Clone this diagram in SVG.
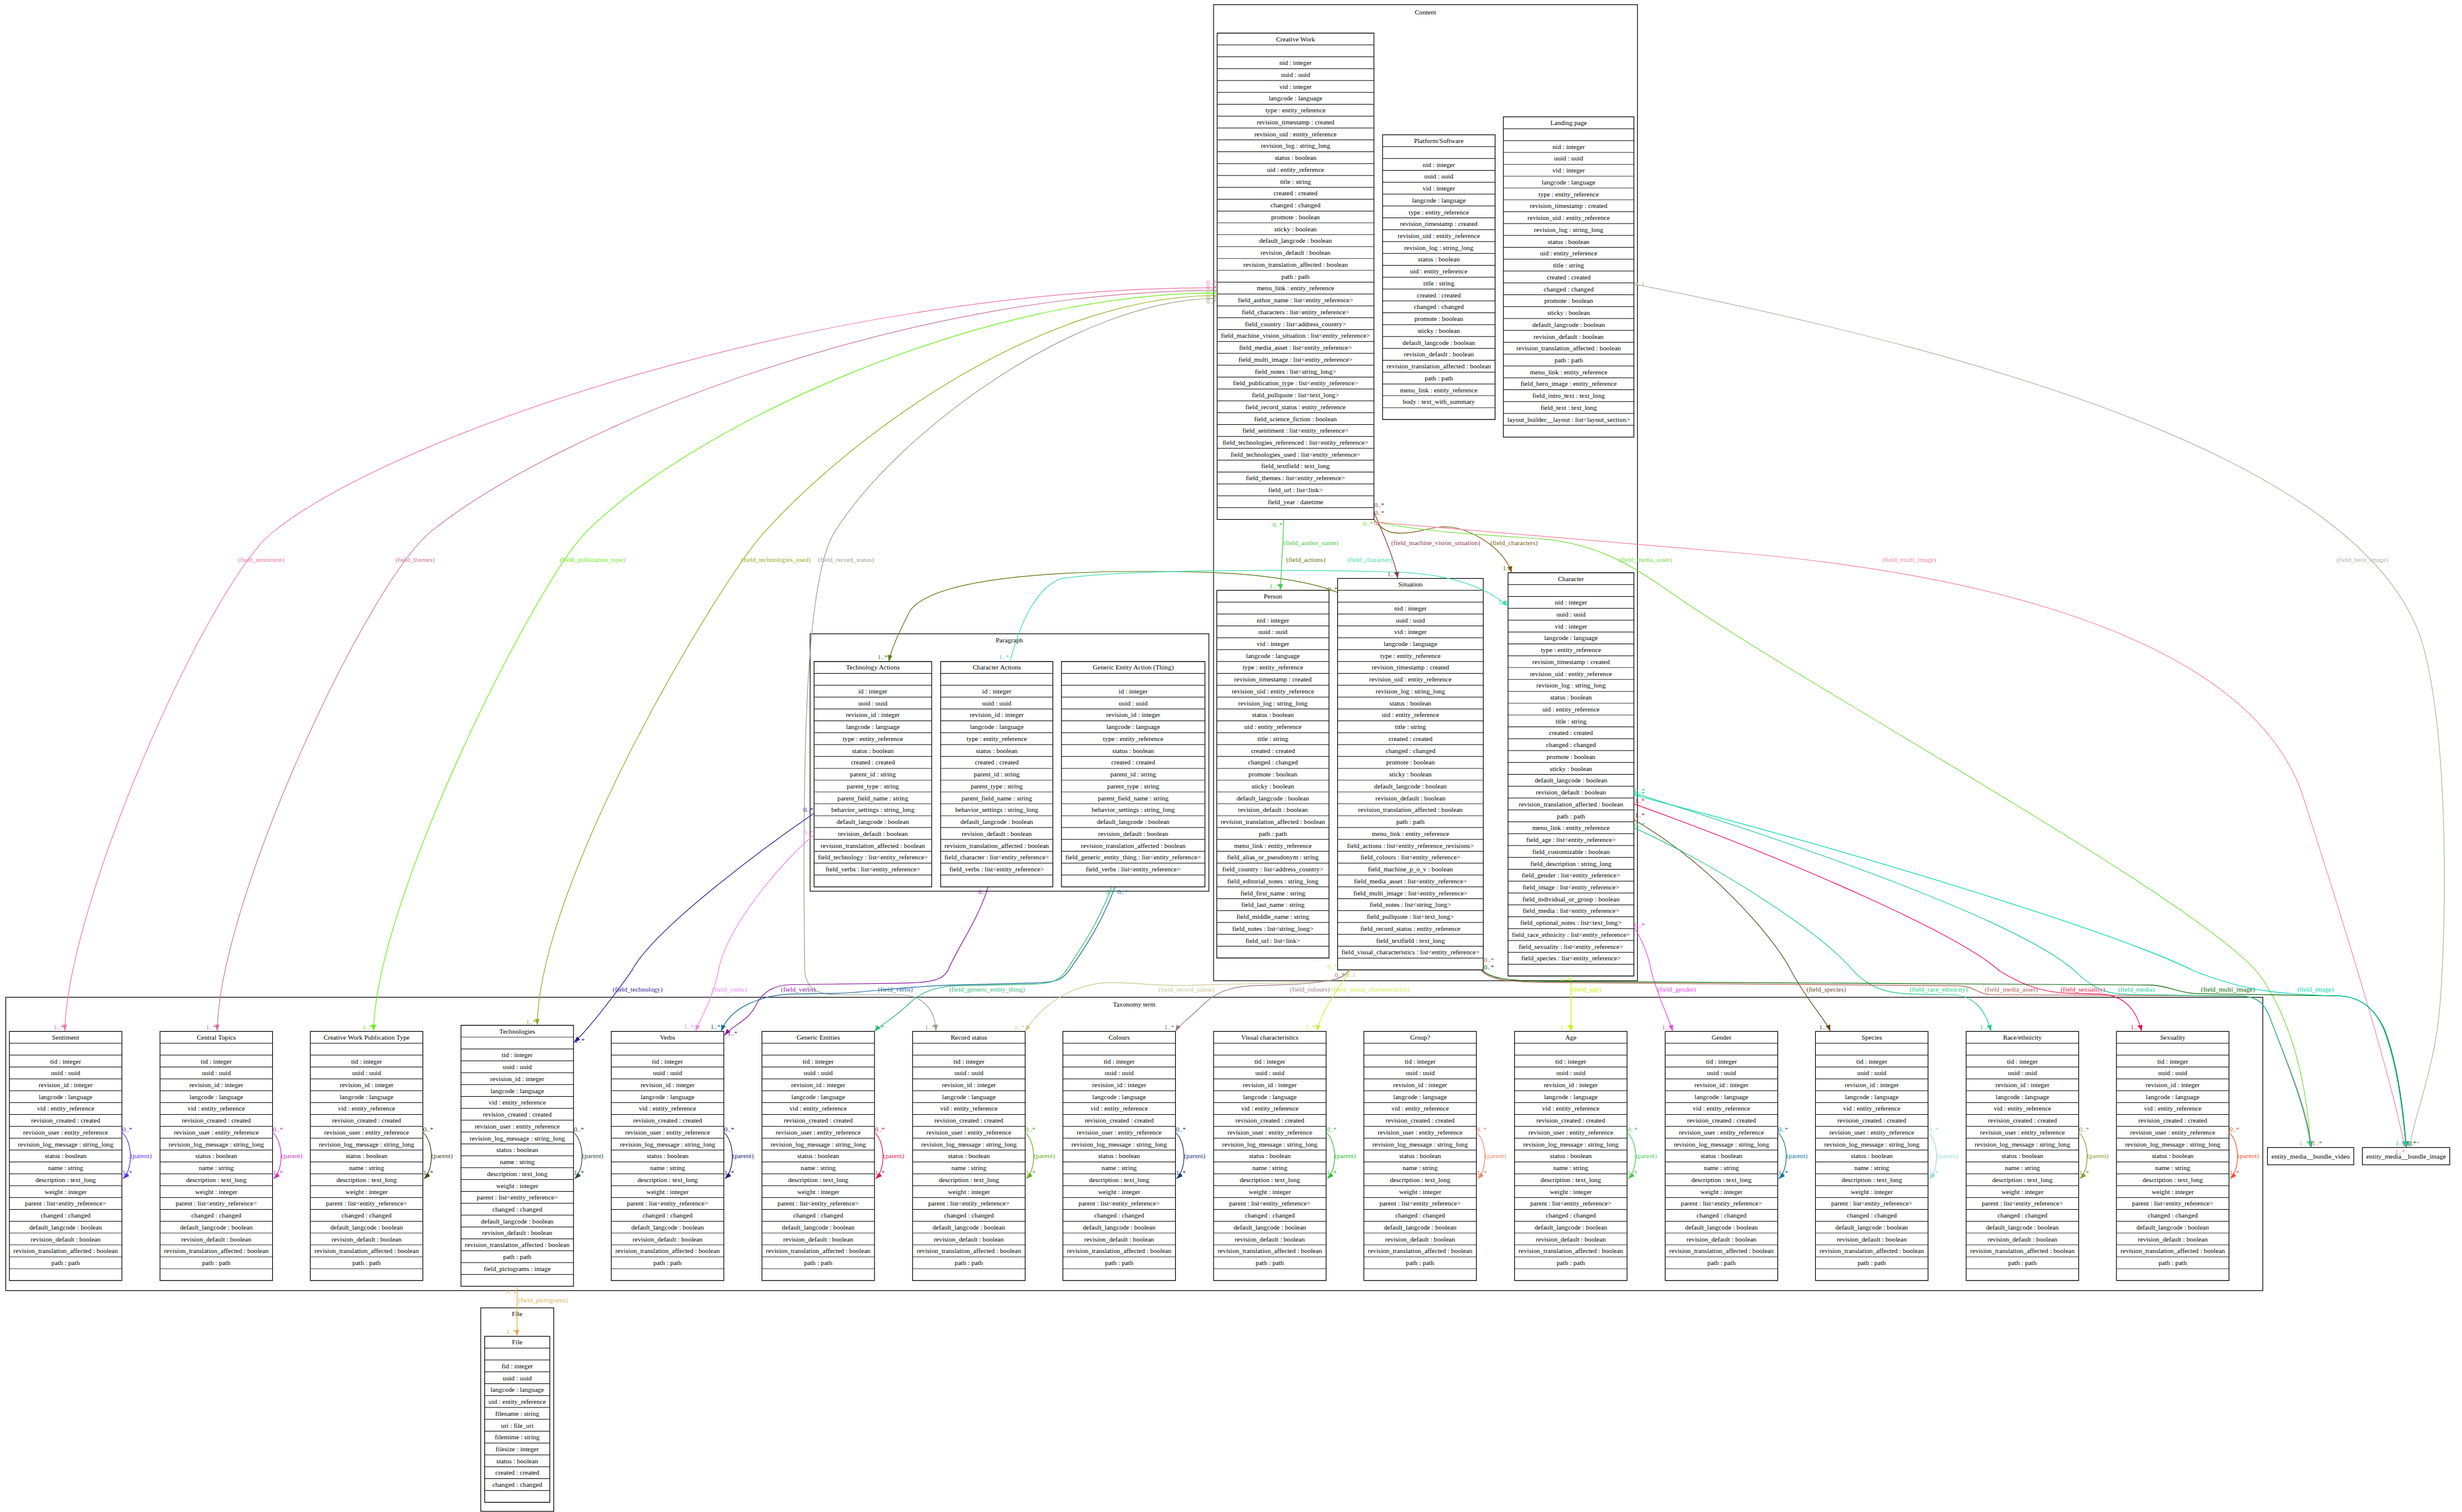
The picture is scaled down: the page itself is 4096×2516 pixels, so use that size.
<svg xmlns="http://www.w3.org/2000/svg" width="4096" height="2516" viewBox="0 0 4096 2516">
<style>
.t{font-family:"Liberation Serif","Times New Roman",serif;font-size:18.67px;text-anchor:middle;fill:#000}
.tb{fill:#fff;stroke:#000;stroke-width:2}
.rl{fill:none;stroke:#000;stroke-dasharray:1.6 31.4;stroke-dashoffset:0.8}
.cl{fill:none;stroke:#000;stroke-width:2}
.e{fill:none;stroke-width:2}
.l{font-family:"Liberation Serif","Times New Roman",serif;font-size:18.67px}
.le{text-anchor:end}
</style>
<defs>
<marker id="m-sent" viewBox="0 0 18 13" refX="18" refY="6.5" markerWidth="18" markerHeight="13" markerUnits="userSpaceOnUse" orient="auto"><path d="M0,0L18,6.5L0,13z" fill="#ee77aa"/></marker>
<marker id="m-them" viewBox="0 0 18 13" refX="18" refY="6.5" markerWidth="18" markerHeight="13" markerUnits="userSpaceOnUse" orient="auto"><path d="M0,0L18,6.5L0,13z" fill="#cc7799"/></marker>
<marker id="m-pub" viewBox="0 0 18 13" refX="18" refY="6.5" markerWidth="18" markerHeight="13" markerUnits="userSpaceOnUse" orient="auto"><path d="M0,0L18,6.5L0,13z" fill="#66ee11"/></marker>
<marker id="m-tu" viewBox="0 0 18 13" refX="18" refY="6.5" markerWidth="18" markerHeight="13" markerUnits="userSpaceOnUse" orient="auto"><path d="M0,0L18,6.5L0,13z" fill="#99aa22"/></marker>
<marker id="m-rs1" viewBox="0 0 18 13" refX="18" refY="6.5" markerWidth="18" markerHeight="13" markerUnits="userSpaceOnUse" orient="auto"><path d="M0,0L18,6.5L0,13z" fill="#99a090"/></marker>
<marker id="m-auth" viewBox="0 0 18 13" refX="18" refY="6.5" markerWidth="18" markerHeight="13" markerUnits="userSpaceOnUse" orient="auto"><path d="M0,0L18,6.5L0,13z" fill="#44cc44"/></marker>
<marker id="m-act" viewBox="0 0 18 13" refX="18" refY="6.5" markerWidth="18" markerHeight="13" markerUnits="userSpaceOnUse" orient="auto"><path d="M0,0L18,6.5L0,13z" fill="#5a7a10"/></marker>
<marker id="m-chr" viewBox="0 0 18 13" refX="18" refY="6.5" markerWidth="18" markerHeight="13" markerUnits="userSpaceOnUse" orient="auto"><path d="M0,0L18,6.5L0,13z" fill="#40e0b0"/></marker>
<marker id="m-mvs" viewBox="0 0 18 13" refX="18" refY="6.5" markerWidth="18" markerHeight="13" markerUnits="userSpaceOnUse" orient="auto"><path d="M0,0L18,6.5L0,13z" fill="#8b3a4a"/></marker>
<marker id="m-chs" viewBox="0 0 18 13" refX="18" refY="6.5" markerWidth="18" markerHeight="13" markerUnits="userSpaceOnUse" orient="auto"><path d="M0,0L18,6.5L0,13z" fill="#7a5c10"/></marker>
<marker id="m-ma1" viewBox="0 0 18 13" refX="18" refY="6.5" markerWidth="18" markerHeight="13" markerUnits="userSpaceOnUse" orient="auto"><path d="M0,0L18,6.5L0,13z" fill="#77dd44"/></marker>
<marker id="m-mi1" viewBox="0 0 18 13" refX="18" refY="6.5" markerWidth="18" markerHeight="13" markerUnits="userSpaceOnUse" orient="auto"><path d="M0,0L18,6.5L0,13z" fill="#f4879a"/></marker>
<marker id="m-hero" viewBox="0 0 18 13" refX="18" refY="6.5" markerWidth="18" markerHeight="13" markerUnits="userSpaceOnUse" orient="auto"><path d="M0,0L18,6.5L0,13z" fill="#a8b8a0"/></marker>
<marker id="m-tech" viewBox="0 0 18 13" refX="18" refY="6.5" markerWidth="18" markerHeight="13" markerUnits="userSpaceOnUse" orient="auto"><path d="M0,0L18,6.5L0,13z" fill="#2b1a9a"/></marker>
<marker id="m-vb1" viewBox="0 0 18 13" refX="18" refY="6.5" markerWidth="18" markerHeight="13" markerUnits="userSpaceOnUse" orient="auto"><path d="M0,0L18,6.5L0,13z" fill="#ee88ee"/></marker>
<marker id="m-vb2" viewBox="0 0 18 13" refX="18" refY="6.5" markerWidth="18" markerHeight="13" markerUnits="userSpaceOnUse" orient="auto"><path d="M0,0L18,6.5L0,13z" fill="#8b1a9a"/></marker>
<marker id="m-vb3" viewBox="0 0 18 13" refX="18" refY="6.5" markerWidth="18" markerHeight="13" markerUnits="userSpaceOnUse" orient="auto"><path d="M0,0L18,6.5L0,13z" fill="#1a6a9a"/></marker>
<marker id="m-get" viewBox="0 0 18 13" refX="18" refY="6.5" markerWidth="18" markerHeight="13" markerUnits="userSpaceOnUse" orient="auto"><path d="M0,0L18,6.5L0,13z" fill="#33bb77"/></marker>
<marker id="m-rs2" viewBox="0 0 18 13" refX="18" refY="6.5" markerWidth="18" markerHeight="13" markerUnits="userSpaceOnUse" orient="auto"><path d="M0,0L18,6.5L0,13z" fill="#c8c890"/></marker>
<marker id="m-col" viewBox="0 0 18 13" refX="18" refY="6.5" markerWidth="18" markerHeight="13" markerUnits="userSpaceOnUse" orient="auto"><path d="M0,0L18,6.5L0,13z" fill="#a07888"/></marker>
<marker id="m-vis" viewBox="0 0 18 13" refX="18" refY="6.5" markerWidth="18" markerHeight="13" markerUnits="userSpaceOnUse" orient="auto"><path d="M0,0L18,6.5L0,13z" fill="#ccee44"/></marker>
<marker id="m-age" viewBox="0 0 18 13" refX="18" refY="6.5" markerWidth="18" markerHeight="13" markerUnits="userSpaceOnUse" orient="auto"><path d="M0,0L18,6.5L0,13z" fill="#ccee00"/></marker>
<marker id="m-gen" viewBox="0 0 18 13" refX="18" refY="6.5" markerWidth="18" markerHeight="13" markerUnits="userSpaceOnUse" orient="auto"><path d="M0,0L18,6.5L0,13z" fill="#ee44ee"/></marker>
<marker id="m-spc" viewBox="0 0 18 13" refX="18" refY="6.5" markerWidth="18" markerHeight="13" markerUnits="userSpaceOnUse" orient="auto"><path d="M0,0L18,6.5L0,13z" fill="#6b4820"/></marker>
<marker id="m-race" viewBox="0 0 18 13" refX="18" refY="6.5" markerWidth="18" markerHeight="13" markerUnits="userSpaceOnUse" orient="auto"><path d="M0,0L18,6.5L0,13z" fill="#22cc88"/></marker>
<marker id="m-ma2" viewBox="0 0 18 13" refX="18" refY="6.5" markerWidth="18" markerHeight="13" markerUnits="userSpaceOnUse" orient="auto"><path d="M0,0L18,6.5L0,13z" fill="#b06050"/></marker>
<marker id="m-sex" viewBox="0 0 18 13" refX="18" refY="6.5" markerWidth="18" markerHeight="13" markerUnits="userSpaceOnUse" orient="auto"><path d="M0,0L18,6.5L0,13z" fill="#ee1155"/></marker>
<marker id="m-med" viewBox="0 0 18 13" refX="18" refY="6.5" markerWidth="18" markerHeight="13" markerUnits="userSpaceOnUse" orient="auto"><path d="M0,0L18,6.5L0,13z" fill="#22cc99"/></marker>
<marker id="m-mi2" viewBox="0 0 18 13" refX="18" refY="6.5" markerWidth="18" markerHeight="13" markerUnits="userSpaceOnUse" orient="auto"><path d="M0,0L18,6.5L0,13z" fill="#006400"/></marker>
<marker id="m-img" viewBox="0 0 18 13" refX="18" refY="6.5" markerWidth="18" markerHeight="13" markerUnits="userSpaceOnUse" orient="auto"><path d="M0,0L18,6.5L0,13z" fill="#00d4b4"/></marker>
<marker id="m-pic" viewBox="0 0 18 13" refX="18" refY="6.5" markerWidth="18" markerHeight="13" markerUnits="userSpaceOnUse" orient="auto"><path d="M0,0L18,6.5L0,13z" fill="#d4b050"/></marker>
<marker id="p0" viewBox="0 0 18 13" refX="18" refY="6.5" markerWidth="18" markerHeight="13" markerUnits="userSpaceOnUse" orient="auto"><path d="M0,0L18,6.5L0,13z" fill="#5a2ee8"/></marker>
<marker id="p1" viewBox="0 0 18 13" refX="18" refY="6.5" markerWidth="18" markerHeight="13" markerUnits="userSpaceOnUse" orient="auto"><path d="M0,0L18,6.5L0,13z" fill="#cc33cc"/></marker>
<marker id="p2" viewBox="0 0 18 13" refX="18" refY="6.5" markerWidth="18" markerHeight="13" markerUnits="userSpaceOnUse" orient="auto"><path d="M0,0L18,6.5L0,13z" fill="#3a4a1a"/></marker>
<marker id="p3" viewBox="0 0 18 13" refX="18" refY="6.5" markerWidth="18" markerHeight="13" markerUnits="userSpaceOnUse" orient="auto"><path d="M0,0L18,6.5L0,13z" fill="#2a5040"/></marker>
<marker id="p4" viewBox="0 0 18 13" refX="18" refY="6.5" markerWidth="18" markerHeight="13" markerUnits="userSpaceOnUse" orient="auto"><path d="M0,0L18,6.5L0,13z" fill="#1a1a70"/></marker>
<marker id="p5" viewBox="0 0 18 13" refX="18" refY="6.5" markerWidth="18" markerHeight="13" markerUnits="userSpaceOnUse" orient="auto"><path d="M0,0L18,6.5L0,13z" fill="#dd1a50"/></marker>
<marker id="p6" viewBox="0 0 18 13" refX="18" refY="6.5" markerWidth="18" markerHeight="13" markerUnits="userSpaceOnUse" orient="auto"><path d="M0,0L18,6.5L0,13z" fill="#66aa22"/></marker>
<marker id="p7" viewBox="0 0 18 13" refX="18" refY="6.5" markerWidth="18" markerHeight="13" markerUnits="userSpaceOnUse" orient="auto"><path d="M0,0L18,6.5L0,13z" fill="#1a3a70"/></marker>
<marker id="p8" viewBox="0 0 18 13" refX="18" refY="6.5" markerWidth="18" markerHeight="13" markerUnits="userSpaceOnUse" orient="auto"><path d="M0,0L18,6.5L0,13z" fill="#33bb33"/></marker>
<marker id="p9" viewBox="0 0 18 13" refX="18" refY="6.5" markerWidth="18" markerHeight="13" markerUnits="userSpaceOnUse" orient="auto"><path d="M0,0L18,6.5L0,13z" fill="#ee8866"/></marker>
<marker id="p10" viewBox="0 0 18 13" refX="18" refY="6.5" markerWidth="18" markerHeight="13" markerUnits="userSpaceOnUse" orient="auto"><path d="M0,0L18,6.5L0,13z" fill="#44cc55"/></marker>
<marker id="p11" viewBox="0 0 18 13" refX="18" refY="6.5" markerWidth="18" markerHeight="13" markerUnits="userSpaceOnUse" orient="auto"><path d="M0,0L18,6.5L0,13z" fill="#117799"/></marker>
<marker id="p12" viewBox="0 0 18 13" refX="18" refY="6.5" markerWidth="18" markerHeight="13" markerUnits="userSpaceOnUse" orient="auto"><path d="M0,0L18,6.5L0,13z" fill="#99dddd"/></marker>
<marker id="p13" viewBox="0 0 18 13" refX="18" refY="6.5" markerWidth="18" markerHeight="13" markerUnits="userSpaceOnUse" orient="auto"><path d="M0,0L18,6.5L0,13z" fill="#889933"/></marker>
<marker id="p14" viewBox="0 0 18 13" refX="18" refY="6.5" markerWidth="18" markerHeight="13" markerUnits="userSpaceOnUse" orient="auto"><path d="M0,0L18,6.5L0,13z" fill="#ee5533"/></marker>
</defs>
<rect width="4096" height="2516" fill="#fff"/>
<g transform="scale(0.598218)">

<g id="clusters">
<g id="cluster-content"><rect class="cl" x="3375" y="13" width="1179" height="2715"/><text class="t" x="3964" y="40">Content</text></g>
<g id="cluster-paragraph"><rect class="cl" x="2253" y="1763" width="1109" height="716"/><text class="t" x="2807" y="1787">Paragraph</text></g>
<g id="cluster-taxonomy"><rect class="cl" x="16" y="2774" width="6277" height="816"/><text class="t" x="3154" y="2800">Taxonomy term</text></g>
<g id="cluster-file"><rect class="cl" x="1337" y="3638" width="203" height="566"/><text class="t" x="1438" y="3661">File</text></g>
</g>

<g id="node-creative-work" transform="translate(3385,92)">
<rect class="tb" width="436" height="1353"/><path class="rl" stroke-width="436" d="M218,0V1353"/>
<text class="t" x="218" y="23">Creative Work<tspan x="218" dy="66">nid : integer</tspan><tspan x="218" dy="33">uuid : uuid</tspan><tspan x="218" dy="33">vid : integer</tspan><tspan x="218" dy="33">langcode : language</tspan><tspan x="218" dy="33">type : entity_reference</tspan><tspan x="218" dy="33">revision_timestamp : created</tspan><tspan x="218" dy="33">revision_uid : entity_reference</tspan><tspan x="218" dy="33">revision_log : string_long</tspan><tspan x="218" dy="33">status : boolean</tspan><tspan x="218" dy="33">uid : entity_reference</tspan><tspan x="218" dy="33">title : string</tspan><tspan x="218" dy="33">created : created</tspan><tspan x="218" dy="33">changed : changed</tspan><tspan x="218" dy="33">promote : boolean</tspan><tspan x="218" dy="33">sticky : boolean</tspan><tspan x="218" dy="33">default_langcode : boolean</tspan><tspan x="218" dy="33">revision_default : boolean</tspan><tspan x="218" dy="33">revision_translation_affected : boolean</tspan><tspan x="218" dy="33">path : path</tspan><tspan x="218" dy="33">menu_link : entity_reference</tspan><tspan x="218" dy="33">field_author_name : list&lt;entity_reference&gt;</tspan><tspan x="218" dy="33">field_characters : list&lt;entity_reference&gt;</tspan><tspan x="218" dy="33">field_country : list&lt;address_country&gt;</tspan><tspan x="218" dy="33">field_machine_vision_situation : list&lt;entity_reference&gt;</tspan><tspan x="218" dy="33">field_media_asset : list&lt;entity_reference&gt;</tspan><tspan x="218" dy="33">field_multi_image : list&lt;entity_reference&gt;</tspan><tspan x="218" dy="33">field_notes : list&lt;string_long&gt;</tspan><tspan x="218" dy="33">field_publication_type : list&lt;entity_reference&gt;</tspan><tspan x="218" dy="33">field_pullquote : list&lt;text_long&gt;</tspan><tspan x="218" dy="33">field_record_status : entity_reference</tspan><tspan x="218" dy="33">field_science_fiction : boolean</tspan><tspan x="218" dy="33">field_sentiment : list&lt;entity_reference&gt;</tspan><tspan x="218" dy="33">field_technologies_referenced : list&lt;entity_reference&gt;</tspan><tspan x="218" dy="33">field_technologies_used : list&lt;entity_reference&gt;</tspan><tspan x="218" dy="33">field_textfield : text_long</tspan><tspan x="218" dy="33">field_themes : list&lt;entity_reference&gt;</tspan><tspan x="218" dy="33">field_url : list&lt;link&gt;</tspan><tspan x="218" dy="33">field_year : datetime</tspan></text>
</g>

<g id="node-platform-software" transform="translate(3845,375)">
<rect class="tb" width="313" height="792"/><path class="rl" stroke-width="313" d="M156.5,0V792"/>
<text class="t" x="156.5" y="23">Platform/Software<tspan x="156.5" dy="66">nid : integer</tspan><tspan x="156.5" dy="33">uuid : uuid</tspan><tspan x="156.5" dy="33">vid : integer</tspan><tspan x="156.5" dy="33">langcode : language</tspan><tspan x="156.5" dy="33">type : entity_reference</tspan><tspan x="156.5" dy="33">revision_timestamp : created</tspan><tspan x="156.5" dy="33">revision_uid : entity_reference</tspan><tspan x="156.5" dy="33">revision_log : string_long</tspan><tspan x="156.5" dy="33">status : boolean</tspan><tspan x="156.5" dy="33">uid : entity_reference</tspan><tspan x="156.5" dy="33">title : string</tspan><tspan x="156.5" dy="33">created : created</tspan><tspan x="156.5" dy="33">changed : changed</tspan><tspan x="156.5" dy="33">promote : boolean</tspan><tspan x="156.5" dy="33">sticky : boolean</tspan><tspan x="156.5" dy="33">default_langcode : boolean</tspan><tspan x="156.5" dy="33">revision_default : boolean</tspan><tspan x="156.5" dy="33">revision_translation_affected : boolean</tspan><tspan x="156.5" dy="33">path : path</tspan><tspan x="156.5" dy="33">menu_link : entity_reference</tspan><tspan x="156.5" dy="33">body : text_with_summary</tspan></text>
</g>

<g id="node-landing-page" transform="translate(4181,325)">
<rect class="tb" width="363" height="891"/><path class="rl" stroke-width="363" d="M181.5,0V891"/>
<text class="t" x="181.5" y="23">Landing page<tspan x="181.5" dy="66">nid : integer</tspan><tspan x="181.5" dy="33">uuid : uuid</tspan><tspan x="181.5" dy="33">vid : integer</tspan><tspan x="181.5" dy="33">langcode : language</tspan><tspan x="181.5" dy="33">type : entity_reference</tspan><tspan x="181.5" dy="33">revision_timestamp : created</tspan><tspan x="181.5" dy="33">revision_uid : entity_reference</tspan><tspan x="181.5" dy="33">revision_log : string_long</tspan><tspan x="181.5" dy="33">status : boolean</tspan><tspan x="181.5" dy="33">uid : entity_reference</tspan><tspan x="181.5" dy="33">title : string</tspan><tspan x="181.5" dy="33">created : created</tspan><tspan x="181.5" dy="33">changed : changed</tspan><tspan x="181.5" dy="33">promote : boolean</tspan><tspan x="181.5" dy="33">sticky : boolean</tspan><tspan x="181.5" dy="33">default_langcode : boolean</tspan><tspan x="181.5" dy="33">revision_default : boolean</tspan><tspan x="181.5" dy="33">revision_translation_affected : boolean</tspan><tspan x="181.5" dy="33">path : path</tspan><tspan x="181.5" dy="33">menu_link : entity_reference</tspan><tspan x="181.5" dy="33">field_hero_image : entity_reference</tspan><tspan x="181.5" dy="33">field_intro_text : text_long</tspan><tspan x="181.5" dy="33">field_text : text_long</tspan><tspan x="181.5" dy="33">layout_builder__layout : list&lt;layout_section&gt;</tspan></text>
</g>

<g id="node-person" transform="translate(3384,1642)">
<rect class="tb" width="312" height="1023"/><path class="rl" stroke-width="312" d="M156,0V1023"/>
<text class="t" x="156" y="23">Person<tspan x="156" dy="66">nid : integer</tspan><tspan x="156" dy="33">uuid : uuid</tspan><tspan x="156" dy="33">vid : integer</tspan><tspan x="156" dy="33">langcode : language</tspan><tspan x="156" dy="33">type : entity_reference</tspan><tspan x="156" dy="33">revision_timestamp : created</tspan><tspan x="156" dy="33">revision_uid : entity_reference</tspan><tspan x="156" dy="33">revision_log : string_long</tspan><tspan x="156" dy="33">status : boolean</tspan><tspan x="156" dy="33">uid : entity_reference</tspan><tspan x="156" dy="33">title : string</tspan><tspan x="156" dy="33">created : created</tspan><tspan x="156" dy="33">changed : changed</tspan><tspan x="156" dy="33">promote : boolean</tspan><tspan x="156" dy="33">sticky : boolean</tspan><tspan x="156" dy="33">default_langcode : boolean</tspan><tspan x="156" dy="33">revision_default : boolean</tspan><tspan x="156" dy="33">revision_translation_affected : boolean</tspan><tspan x="156" dy="33">path : path</tspan><tspan x="156" dy="33">menu_link : entity_reference</tspan><tspan x="156" dy="33">field_alias_or_pseudonym : string</tspan><tspan x="156" dy="33">field_country : list&lt;address_country&gt;</tspan><tspan x="156" dy="33">field_editorial_notes : string_long</tspan><tspan x="156" dy="33">field_first_name : string</tspan><tspan x="156" dy="33">field_last_name : string</tspan><tspan x="156" dy="33">field_middle_name : string</tspan><tspan x="156" dy="33">field_notes : list&lt;string_long&gt;</tspan><tspan x="156" dy="33">field_url : list&lt;link&gt;</tspan></text>
</g>

<g id="node-situation" transform="translate(3720,1609)">
<rect class="tb" width="405" height="1089"/><path class="rl" stroke-width="405" d="M202.5,0V1089"/>
<text class="t" x="202.5" y="23">Situation<tspan x="202.5" dy="66">nid : integer</tspan><tspan x="202.5" dy="33">uuid : uuid</tspan><tspan x="202.5" dy="33">vid : integer</tspan><tspan x="202.5" dy="33">langcode : language</tspan><tspan x="202.5" dy="33">type : entity_reference</tspan><tspan x="202.5" dy="33">revision_timestamp : created</tspan><tspan x="202.5" dy="33">revision_uid : entity_reference</tspan><tspan x="202.5" dy="33">revision_log : string_long</tspan><tspan x="202.5" dy="33">status : boolean</tspan><tspan x="202.5" dy="33">uid : entity_reference</tspan><tspan x="202.5" dy="33">title : string</tspan><tspan x="202.5" dy="33">created : created</tspan><tspan x="202.5" dy="33">changed : changed</tspan><tspan x="202.5" dy="33">promote : boolean</tspan><tspan x="202.5" dy="33">sticky : boolean</tspan><tspan x="202.5" dy="33">default_langcode : boolean</tspan><tspan x="202.5" dy="33">revision_default : boolean</tspan><tspan x="202.5" dy="33">revision_translation_affected : boolean</tspan><tspan x="202.5" dy="33">path : path</tspan><tspan x="202.5" dy="33">menu_link : entity_reference</tspan><tspan x="202.5" dy="33">field_actions : list&lt;entity_reference_revisions&gt;</tspan><tspan x="202.5" dy="33">field_colours : list&lt;entity_reference&gt;</tspan><tspan x="202.5" dy="33">field_machine_p_o_v : boolean</tspan><tspan x="202.5" dy="33">field_media_asset : list&lt;entity_reference&gt;</tspan><tspan x="202.5" dy="33">field_multi_image : list&lt;entity_reference&gt;</tspan><tspan x="202.5" dy="33">field_notes : list&lt;string_long&gt;</tspan><tspan x="202.5" dy="33">field_pullquote : list&lt;text_long&gt;</tspan><tspan x="202.5" dy="33">field_record_status : entity_reference</tspan><tspan x="202.5" dy="33">field_textfield : text_long</tspan><tspan x="202.5" dy="33">field_visual_characteristics : list&lt;entity_reference&gt;</tspan></text>
</g>

<g id="node-character" transform="translate(4194,1593)">
<rect class="tb" width="350" height="1122"/><path class="rl" stroke-width="350" d="M175,0V1122"/>
<text class="t" x="175" y="23">Character<tspan x="175" dy="66">nid : integer</tspan><tspan x="175" dy="33">uuid : uuid</tspan><tspan x="175" dy="33">vid : integer</tspan><tspan x="175" dy="33">langcode : language</tspan><tspan x="175" dy="33">type : entity_reference</tspan><tspan x="175" dy="33">revision_timestamp : created</tspan><tspan x="175" dy="33">revision_uid : entity_reference</tspan><tspan x="175" dy="33">revision_log : string_long</tspan><tspan x="175" dy="33">status : boolean</tspan><tspan x="175" dy="33">uid : entity_reference</tspan><tspan x="175" dy="33">title : string</tspan><tspan x="175" dy="33">created : created</tspan><tspan x="175" dy="33">changed : changed</tspan><tspan x="175" dy="33">promote : boolean</tspan><tspan x="175" dy="33">sticky : boolean</tspan><tspan x="175" dy="33">default_langcode : boolean</tspan><tspan x="175" dy="33">revision_default : boolean</tspan><tspan x="175" dy="33">revision_translation_affected : boolean</tspan><tspan x="175" dy="33">path : path</tspan><tspan x="175" dy="33">menu_link : entity_reference</tspan><tspan x="175" dy="33">field_age : list&lt;entity_reference&gt;</tspan><tspan x="175" dy="33">field_customizable : boolean</tspan><tspan x="175" dy="33">field_description : string_long</tspan><tspan x="175" dy="33">field_gender : list&lt;entity_reference&gt;</tspan><tspan x="175" dy="33">field_image : list&lt;entity_reference&gt;</tspan><tspan x="175" dy="33">field_individual_or_group : boolean</tspan><tspan x="175" dy="33">field_media : list&lt;entity_reference&gt;</tspan><tspan x="175" dy="33">field_optional_notes : list&lt;text_long&gt;</tspan><tspan x="175" dy="33">field_race_ethnicity : list&lt;entity_reference&gt;</tspan><tspan x="175" dy="33">field_sexuality : list&lt;entity_reference&gt;</tspan><tspan x="175" dy="33">field_species : list&lt;entity_reference&gt;</tspan></text>
</g>

<g id="node-technology-actions" transform="translate(2264,1840)">
<rect class="tb" width="327" height="627"/><path class="rl" stroke-width="327" d="M163.5,0V627"/>
<text class="t" x="163.5" y="23">Technology Actions<tspan x="163.5" dy="66">id : integer</tspan><tspan x="163.5" dy="33">uuid : uuid</tspan><tspan x="163.5" dy="33">revision_id : integer</tspan><tspan x="163.5" dy="33">langcode : language</tspan><tspan x="163.5" dy="33">type : entity_reference</tspan><tspan x="163.5" dy="33">status : boolean</tspan><tspan x="163.5" dy="33">created : created</tspan><tspan x="163.5" dy="33">parent_id : string</tspan><tspan x="163.5" dy="33">parent_type : string</tspan><tspan x="163.5" dy="33">parent_field_name : string</tspan><tspan x="163.5" dy="33">behavior_settings : string_long</tspan><tspan x="163.5" dy="33">default_langcode : boolean</tspan><tspan x="163.5" dy="33">revision_default : boolean</tspan><tspan x="163.5" dy="33">revision_translation_affected : boolean</tspan><tspan x="163.5" dy="33">field_technology : list&lt;entity_reference&gt;</tspan><tspan x="163.5" dy="33">field_verbs : list&lt;entity_reference&gt;</tspan></text>
</g>

<g id="node-character-actions" transform="translate(2616,1840)">
<rect class="tb" width="312" height="627"/><path class="rl" stroke-width="312" d="M156,0V627"/>
<text class="t" x="156" y="23">Character Actions<tspan x="156" dy="66">id : integer</tspan><tspan x="156" dy="33">uuid : uuid</tspan><tspan x="156" dy="33">revision_id : integer</tspan><tspan x="156" dy="33">langcode : language</tspan><tspan x="156" dy="33">type : entity_reference</tspan><tspan x="156" dy="33">status : boolean</tspan><tspan x="156" dy="33">created : created</tspan><tspan x="156" dy="33">parent_id : string</tspan><tspan x="156" dy="33">parent_type : string</tspan><tspan x="156" dy="33">parent_field_name : string</tspan><tspan x="156" dy="33">behavior_settings : string_long</tspan><tspan x="156" dy="33">default_langcode : boolean</tspan><tspan x="156" dy="33">revision_default : boolean</tspan><tspan x="156" dy="33">revision_translation_affected : boolean</tspan><tspan x="156" dy="33">field_character : list&lt;entity_reference&gt;</tspan><tspan x="156" dy="33">field_verbs : list&lt;entity_reference&gt;</tspan></text>
</g>

<g id="node-generic-entity-action" transform="translate(2952,1840)">
<rect class="tb" width="399" height="627"/><path class="rl" stroke-width="399" d="M199.5,0V627"/>
<text class="t" x="199.5" y="23">Generic Entity Action (Thing)<tspan x="199.5" dy="66">id : integer</tspan><tspan x="199.5" dy="33">uuid : uuid</tspan><tspan x="199.5" dy="33">revision_id : integer</tspan><tspan x="199.5" dy="33">langcode : language</tspan><tspan x="199.5" dy="33">type : entity_reference</tspan><tspan x="199.5" dy="33">status : boolean</tspan><tspan x="199.5" dy="33">created : created</tspan><tspan x="199.5" dy="33">parent_id : string</tspan><tspan x="199.5" dy="33">parent_type : string</tspan><tspan x="199.5" dy="33">parent_field_name : string</tspan><tspan x="199.5" dy="33">behavior_settings : string_long</tspan><tspan x="199.5" dy="33">default_langcode : boolean</tspan><tspan x="199.5" dy="33">revision_default : boolean</tspan><tspan x="199.5" dy="33">revision_translation_affected : boolean</tspan><tspan x="199.5" dy="33">field_generic_entity_thing : list&lt;entity_reference&gt;</tspan><tspan x="199.5" dy="33">field_verbs : list&lt;entity_reference&gt;</tspan></text>
</g>

<g id="node-sentiment" transform="translate(26,2869)">
<rect class="tb" width="313" height="693"/><path class="rl" stroke-width="313" d="M156.5,0V693"/>
<text class="t" x="156.5" y="23">Sentiment<tspan x="156.5" dy="66">tid : integer</tspan><tspan x="156.5" dy="33">uuid : uuid</tspan><tspan x="156.5" dy="33">revision_id : integer</tspan><tspan x="156.5" dy="33">langcode : language</tspan><tspan x="156.5" dy="33">vid : entity_reference</tspan><tspan x="156.5" dy="33">revision_created : created</tspan><tspan x="156.5" dy="33">revision_user : entity_reference</tspan><tspan x="156.5" dy="33">revision_log_message : string_long</tspan><tspan x="156.5" dy="33">status : boolean</tspan><tspan x="156.5" dy="33">name : string</tspan><tspan x="156.5" dy="33">description : text_long</tspan><tspan x="156.5" dy="33">weight : integer</tspan><tspan x="156.5" dy="33">parent : list&lt;entity_reference&gt;</tspan><tspan x="156.5" dy="33">changed : changed</tspan><tspan x="156.5" dy="33">default_langcode : boolean</tspan><tspan x="156.5" dy="33">revision_default : boolean</tspan><tspan x="156.5" dy="33">revision_translation_affected : boolean</tspan><tspan x="156.5" dy="33">path : path</tspan></text>
</g>

<g id="node-central-topics" transform="translate(445,2869)">
<rect class="tb" width="313" height="693"/><path class="rl" stroke-width="313" d="M156.5,0V693"/>
<text class="t" x="156.5" y="23">Central Topics<tspan x="156.5" dy="66">tid : integer</tspan><tspan x="156.5" dy="33">uuid : uuid</tspan><tspan x="156.5" dy="33">revision_id : integer</tspan><tspan x="156.5" dy="33">langcode : language</tspan><tspan x="156.5" dy="33">vid : entity_reference</tspan><tspan x="156.5" dy="33">revision_created : created</tspan><tspan x="156.5" dy="33">revision_user : entity_reference</tspan><tspan x="156.5" dy="33">revision_log_message : string_long</tspan><tspan x="156.5" dy="33">status : boolean</tspan><tspan x="156.5" dy="33">name : string</tspan><tspan x="156.5" dy="33">description : text_long</tspan><tspan x="156.5" dy="33">weight : integer</tspan><tspan x="156.5" dy="33">parent : list&lt;entity_reference&gt;</tspan><tspan x="156.5" dy="33">changed : changed</tspan><tspan x="156.5" dy="33">default_langcode : boolean</tspan><tspan x="156.5" dy="33">revision_default : boolean</tspan><tspan x="156.5" dy="33">revision_translation_affected : boolean</tspan><tspan x="156.5" dy="33">path : path</tspan></text>
</g>

<g id="node-cw-publication-type" transform="translate(863,2869)">
<rect class="tb" width="313" height="693"/><path class="rl" stroke-width="313" d="M156.5,0V693"/>
<text class="t" x="156.5" y="23">Creative Work Publication Type<tspan x="156.5" dy="66">tid : integer</tspan><tspan x="156.5" dy="33">uuid : uuid</tspan><tspan x="156.5" dy="33">revision_id : integer</tspan><tspan x="156.5" dy="33">langcode : language</tspan><tspan x="156.5" dy="33">vid : entity_reference</tspan><tspan x="156.5" dy="33">revision_created : created</tspan><tspan x="156.5" dy="33">revision_user : entity_reference</tspan><tspan x="156.5" dy="33">revision_log_message : string_long</tspan><tspan x="156.5" dy="33">status : boolean</tspan><tspan x="156.5" dy="33">name : string</tspan><tspan x="156.5" dy="33">description : text_long</tspan><tspan x="156.5" dy="33">weight : integer</tspan><tspan x="156.5" dy="33">parent : list&lt;entity_reference&gt;</tspan><tspan x="156.5" dy="33">changed : changed</tspan><tspan x="156.5" dy="33">default_langcode : boolean</tspan><tspan x="156.5" dy="33">revision_default : boolean</tspan><tspan x="156.5" dy="33">revision_translation_affected : boolean</tspan><tspan x="156.5" dy="33">path : path</tspan></text>
</g>

<g id="node-technologies" transform="translate(1282,2852)">
<rect class="tb" width="313" height="726"/><path class="rl" stroke-width="313" d="M156.5,0V726"/>
<text class="t" x="156.5" y="23">Technologies<tspan x="156.5" dy="66">tid : integer</tspan><tspan x="156.5" dy="33">uuid : uuid</tspan><tspan x="156.5" dy="33">revision_id : integer</tspan><tspan x="156.5" dy="33">langcode : language</tspan><tspan x="156.5" dy="33">vid : entity_reference</tspan><tspan x="156.5" dy="33">revision_created : created</tspan><tspan x="156.5" dy="33">revision_user : entity_reference</tspan><tspan x="156.5" dy="33">revision_log_message : string_long</tspan><tspan x="156.5" dy="33">status : boolean</tspan><tspan x="156.5" dy="33">name : string</tspan><tspan x="156.5" dy="33">description : text_long</tspan><tspan x="156.5" dy="33">weight : integer</tspan><tspan x="156.5" dy="33">parent : list&lt;entity_reference&gt;</tspan><tspan x="156.5" dy="33">changed : changed</tspan><tspan x="156.5" dy="33">default_langcode : boolean</tspan><tspan x="156.5" dy="33">revision_default : boolean</tspan><tspan x="156.5" dy="33">revision_translation_affected : boolean</tspan><tspan x="156.5" dy="33">path : path</tspan><tspan x="156.5" dy="33">field_pictograms : image</tspan></text>
</g>

<g id="node-verbs" transform="translate(1700,2869)">
<rect class="tb" width="313" height="693"/><path class="rl" stroke-width="313" d="M156.5,0V693"/>
<text class="t" x="156.5" y="23">Verbs<tspan x="156.5" dy="66">tid : integer</tspan><tspan x="156.5" dy="33">uuid : uuid</tspan><tspan x="156.5" dy="33">revision_id : integer</tspan><tspan x="156.5" dy="33">langcode : language</tspan><tspan x="156.5" dy="33">vid : entity_reference</tspan><tspan x="156.5" dy="33">revision_created : created</tspan><tspan x="156.5" dy="33">revision_user : entity_reference</tspan><tspan x="156.5" dy="33">revision_log_message : string_long</tspan><tspan x="156.5" dy="33">status : boolean</tspan><tspan x="156.5" dy="33">name : string</tspan><tspan x="156.5" dy="33">description : text_long</tspan><tspan x="156.5" dy="33">weight : integer</tspan><tspan x="156.5" dy="33">parent : list&lt;entity_reference&gt;</tspan><tspan x="156.5" dy="33">changed : changed</tspan><tspan x="156.5" dy="33">default_langcode : boolean</tspan><tspan x="156.5" dy="33">revision_default : boolean</tspan><tspan x="156.5" dy="33">revision_translation_affected : boolean</tspan><tspan x="156.5" dy="33">path : path</tspan></text>
</g>

<g id="node-generic-entities" transform="translate(2119,2869)">
<rect class="tb" width="313" height="693"/><path class="rl" stroke-width="313" d="M156.5,0V693"/>
<text class="t" x="156.5" y="23">Generic Entities<tspan x="156.5" dy="66">tid : integer</tspan><tspan x="156.5" dy="33">uuid : uuid</tspan><tspan x="156.5" dy="33">revision_id : integer</tspan><tspan x="156.5" dy="33">langcode : language</tspan><tspan x="156.5" dy="33">vid : entity_reference</tspan><tspan x="156.5" dy="33">revision_created : created</tspan><tspan x="156.5" dy="33">revision_user : entity_reference</tspan><tspan x="156.5" dy="33">revision_log_message : string_long</tspan><tspan x="156.5" dy="33">status : boolean</tspan><tspan x="156.5" dy="33">name : string</tspan><tspan x="156.5" dy="33">description : text_long</tspan><tspan x="156.5" dy="33">weight : integer</tspan><tspan x="156.5" dy="33">parent : list&lt;entity_reference&gt;</tspan><tspan x="156.5" dy="33">changed : changed</tspan><tspan x="156.5" dy="33">default_langcode : boolean</tspan><tspan x="156.5" dy="33">revision_default : boolean</tspan><tspan x="156.5" dy="33">revision_translation_affected : boolean</tspan><tspan x="156.5" dy="33">path : path</tspan></text>
</g>

<g id="node-record-status" transform="translate(2538,2869)">
<rect class="tb" width="313" height="693"/><path class="rl" stroke-width="313" d="M156.5,0V693"/>
<text class="t" x="156.5" y="23">Record status<tspan x="156.5" dy="66">tid : integer</tspan><tspan x="156.5" dy="33">uuid : uuid</tspan><tspan x="156.5" dy="33">revision_id : integer</tspan><tspan x="156.5" dy="33">langcode : language</tspan><tspan x="156.5" dy="33">vid : entity_reference</tspan><tspan x="156.5" dy="33">revision_created : created</tspan><tspan x="156.5" dy="33">revision_user : entity_reference</tspan><tspan x="156.5" dy="33">revision_log_message : string_long</tspan><tspan x="156.5" dy="33">status : boolean</tspan><tspan x="156.5" dy="33">name : string</tspan><tspan x="156.5" dy="33">description : text_long</tspan><tspan x="156.5" dy="33">weight : integer</tspan><tspan x="156.5" dy="33">parent : list&lt;entity_reference&gt;</tspan><tspan x="156.5" dy="33">changed : changed</tspan><tspan x="156.5" dy="33">default_langcode : boolean</tspan><tspan x="156.5" dy="33">revision_default : boolean</tspan><tspan x="156.5" dy="33">revision_translation_affected : boolean</tspan><tspan x="156.5" dy="33">path : path</tspan></text>
</g>

<g id="node-colours" transform="translate(2956,2869)">
<rect class="tb" width="313" height="693"/><path class="rl" stroke-width="313" d="M156.5,0V693"/>
<text class="t" x="156.5" y="23">Colours<tspan x="156.5" dy="66">tid : integer</tspan><tspan x="156.5" dy="33">uuid : uuid</tspan><tspan x="156.5" dy="33">revision_id : integer</tspan><tspan x="156.5" dy="33">langcode : language</tspan><tspan x="156.5" dy="33">vid : entity_reference</tspan><tspan x="156.5" dy="33">revision_created : created</tspan><tspan x="156.5" dy="33">revision_user : entity_reference</tspan><tspan x="156.5" dy="33">revision_log_message : string_long</tspan><tspan x="156.5" dy="33">status : boolean</tspan><tspan x="156.5" dy="33">name : string</tspan><tspan x="156.5" dy="33">description : text_long</tspan><tspan x="156.5" dy="33">weight : integer</tspan><tspan x="156.5" dy="33">parent : list&lt;entity_reference&gt;</tspan><tspan x="156.5" dy="33">changed : changed</tspan><tspan x="156.5" dy="33">default_langcode : boolean</tspan><tspan x="156.5" dy="33">revision_default : boolean</tspan><tspan x="156.5" dy="33">revision_translation_affected : boolean</tspan><tspan x="156.5" dy="33">path : path</tspan></text>
</g>

<g id="node-visual-characteristics" transform="translate(3375,2869)">
<rect class="tb" width="313" height="693"/><path class="rl" stroke-width="313" d="M156.5,0V693"/>
<text class="t" x="156.5" y="23">Visual characteristics<tspan x="156.5" dy="66">tid : integer</tspan><tspan x="156.5" dy="33">uuid : uuid</tspan><tspan x="156.5" dy="33">revision_id : integer</tspan><tspan x="156.5" dy="33">langcode : language</tspan><tspan x="156.5" dy="33">vid : entity_reference</tspan><tspan x="156.5" dy="33">revision_created : created</tspan><tspan x="156.5" dy="33">revision_user : entity_reference</tspan><tspan x="156.5" dy="33">revision_log_message : string_long</tspan><tspan x="156.5" dy="33">status : boolean</tspan><tspan x="156.5" dy="33">name : string</tspan><tspan x="156.5" dy="33">description : text_long</tspan><tspan x="156.5" dy="33">weight : integer</tspan><tspan x="156.5" dy="33">parent : list&lt;entity_reference&gt;</tspan><tspan x="156.5" dy="33">changed : changed</tspan><tspan x="156.5" dy="33">default_langcode : boolean</tspan><tspan x="156.5" dy="33">revision_default : boolean</tspan><tspan x="156.5" dy="33">revision_translation_affected : boolean</tspan><tspan x="156.5" dy="33">path : path</tspan></text>
</g>

<g id="node-group" transform="translate(3793,2869)">
<rect class="tb" width="313" height="693"/><path class="rl" stroke-width="313" d="M156.5,0V693"/>
<text class="t" x="156.5" y="23">Group?<tspan x="156.5" dy="66">tid : integer</tspan><tspan x="156.5" dy="33">uuid : uuid</tspan><tspan x="156.5" dy="33">revision_id : integer</tspan><tspan x="156.5" dy="33">langcode : language</tspan><tspan x="156.5" dy="33">vid : entity_reference</tspan><tspan x="156.5" dy="33">revision_created : created</tspan><tspan x="156.5" dy="33">revision_user : entity_reference</tspan><tspan x="156.5" dy="33">revision_log_message : string_long</tspan><tspan x="156.5" dy="33">status : boolean</tspan><tspan x="156.5" dy="33">name : string</tspan><tspan x="156.5" dy="33">description : text_long</tspan><tspan x="156.5" dy="33">weight : integer</tspan><tspan x="156.5" dy="33">parent : list&lt;entity_reference&gt;</tspan><tspan x="156.5" dy="33">changed : changed</tspan><tspan x="156.5" dy="33">default_langcode : boolean</tspan><tspan x="156.5" dy="33">revision_default : boolean</tspan><tspan x="156.5" dy="33">revision_translation_affected : boolean</tspan><tspan x="156.5" dy="33">path : path</tspan></text>
</g>

<g id="node-age" transform="translate(4212,2869)">
<rect class="tb" width="313" height="693"/><path class="rl" stroke-width="313" d="M156.5,0V693"/>
<text class="t" x="156.5" y="23">Age<tspan x="156.5" dy="66">tid : integer</tspan><tspan x="156.5" dy="33">uuid : uuid</tspan><tspan x="156.5" dy="33">revision_id : integer</tspan><tspan x="156.5" dy="33">langcode : language</tspan><tspan x="156.5" dy="33">vid : entity_reference</tspan><tspan x="156.5" dy="33">revision_created : created</tspan><tspan x="156.5" dy="33">revision_user : entity_reference</tspan><tspan x="156.5" dy="33">revision_log_message : string_long</tspan><tspan x="156.5" dy="33">status : boolean</tspan><tspan x="156.5" dy="33">name : string</tspan><tspan x="156.5" dy="33">description : text_long</tspan><tspan x="156.5" dy="33">weight : integer</tspan><tspan x="156.5" dy="33">parent : list&lt;entity_reference&gt;</tspan><tspan x="156.5" dy="33">changed : changed</tspan><tspan x="156.5" dy="33">default_langcode : boolean</tspan><tspan x="156.5" dy="33">revision_default : boolean</tspan><tspan x="156.5" dy="33">revision_translation_affected : boolean</tspan><tspan x="156.5" dy="33">path : path</tspan></text>
</g>

<g id="node-gender" transform="translate(4631,2869)">
<rect class="tb" width="313" height="693"/><path class="rl" stroke-width="313" d="M156.5,0V693"/>
<text class="t" x="156.5" y="23">Gender<tspan x="156.5" dy="66">tid : integer</tspan><tspan x="156.5" dy="33">uuid : uuid</tspan><tspan x="156.5" dy="33">revision_id : integer</tspan><tspan x="156.5" dy="33">langcode : language</tspan><tspan x="156.5" dy="33">vid : entity_reference</tspan><tspan x="156.5" dy="33">revision_created : created</tspan><tspan x="156.5" dy="33">revision_user : entity_reference</tspan><tspan x="156.5" dy="33">revision_log_message : string_long</tspan><tspan x="156.5" dy="33">status : boolean</tspan><tspan x="156.5" dy="33">name : string</tspan><tspan x="156.5" dy="33">description : text_long</tspan><tspan x="156.5" dy="33">weight : integer</tspan><tspan x="156.5" dy="33">parent : list&lt;entity_reference&gt;</tspan><tspan x="156.5" dy="33">changed : changed</tspan><tspan x="156.5" dy="33">default_langcode : boolean</tspan><tspan x="156.5" dy="33">revision_default : boolean</tspan><tspan x="156.5" dy="33">revision_translation_affected : boolean</tspan><tspan x="156.5" dy="33">path : path</tspan></text>
</g>

<g id="node-species" transform="translate(5049,2869)">
<rect class="tb" width="313" height="693"/><path class="rl" stroke-width="313" d="M156.5,0V693"/>
<text class="t" x="156.5" y="23">Species<tspan x="156.5" dy="66">tid : integer</tspan><tspan x="156.5" dy="33">uuid : uuid</tspan><tspan x="156.5" dy="33">revision_id : integer</tspan><tspan x="156.5" dy="33">langcode : language</tspan><tspan x="156.5" dy="33">vid : entity_reference</tspan><tspan x="156.5" dy="33">revision_created : created</tspan><tspan x="156.5" dy="33">revision_user : entity_reference</tspan><tspan x="156.5" dy="33">revision_log_message : string_long</tspan><tspan x="156.5" dy="33">status : boolean</tspan><tspan x="156.5" dy="33">name : string</tspan><tspan x="156.5" dy="33">description : text_long</tspan><tspan x="156.5" dy="33">weight : integer</tspan><tspan x="156.5" dy="33">parent : list&lt;entity_reference&gt;</tspan><tspan x="156.5" dy="33">changed : changed</tspan><tspan x="156.5" dy="33">default_langcode : boolean</tspan><tspan x="156.5" dy="33">revision_default : boolean</tspan><tspan x="156.5" dy="33">revision_translation_affected : boolean</tspan><tspan x="156.5" dy="33">path : path</tspan></text>
</g>

<g id="node-race-ethnicity" transform="translate(5468,2869)">
<rect class="tb" width="313" height="693"/><path class="rl" stroke-width="313" d="M156.5,0V693"/>
<text class="t" x="156.5" y="23">Race/ethnicity<tspan x="156.5" dy="66">tid : integer</tspan><tspan x="156.5" dy="33">uuid : uuid</tspan><tspan x="156.5" dy="33">revision_id : integer</tspan><tspan x="156.5" dy="33">langcode : language</tspan><tspan x="156.5" dy="33">vid : entity_reference</tspan><tspan x="156.5" dy="33">revision_created : created</tspan><tspan x="156.5" dy="33">revision_user : entity_reference</tspan><tspan x="156.5" dy="33">revision_log_message : string_long</tspan><tspan x="156.5" dy="33">status : boolean</tspan><tspan x="156.5" dy="33">name : string</tspan><tspan x="156.5" dy="33">description : text_long</tspan><tspan x="156.5" dy="33">weight : integer</tspan><tspan x="156.5" dy="33">parent : list&lt;entity_reference&gt;</tspan><tspan x="156.5" dy="33">changed : changed</tspan><tspan x="156.5" dy="33">default_langcode : boolean</tspan><tspan x="156.5" dy="33">revision_default : boolean</tspan><tspan x="156.5" dy="33">revision_translation_affected : boolean</tspan><tspan x="156.5" dy="33">path : path</tspan></text>
</g>

<g id="node-sexuality" transform="translate(5886,2869)">
<rect class="tb" width="313" height="693"/><path class="rl" stroke-width="313" d="M156.5,0V693"/>
<text class="t" x="156.5" y="23">Sexuality<tspan x="156.5" dy="66">tid : integer</tspan><tspan x="156.5" dy="33">uuid : uuid</tspan><tspan x="156.5" dy="33">revision_id : integer</tspan><tspan x="156.5" dy="33">langcode : language</tspan><tspan x="156.5" dy="33">vid : entity_reference</tspan><tspan x="156.5" dy="33">revision_created : created</tspan><tspan x="156.5" dy="33">revision_user : entity_reference</tspan><tspan x="156.5" dy="33">revision_log_message : string_long</tspan><tspan x="156.5" dy="33">status : boolean</tspan><tspan x="156.5" dy="33">name : string</tspan><tspan x="156.5" dy="33">description : text_long</tspan><tspan x="156.5" dy="33">weight : integer</tspan><tspan x="156.5" dy="33">parent : list&lt;entity_reference&gt;</tspan><tspan x="156.5" dy="33">changed : changed</tspan><tspan x="156.5" dy="33">default_langcode : boolean</tspan><tspan x="156.5" dy="33">revision_default : boolean</tspan><tspan x="156.5" dy="33">revision_translation_affected : boolean</tspan><tspan x="156.5" dy="33">path : path</tspan></text>
</g>

<g id="node-file" transform="translate(1348,3717)">
<rect class="tb" width="181" height="462"/><path class="rl" stroke-width="181" d="M90.5,0V462"/>
<text class="t" x="90.5" y="23">File<tspan x="90.5" dy="66">fid : integer</tspan><tspan x="90.5" dy="33">uuid : uuid</tspan><tspan x="90.5" dy="33">langcode : language</tspan><tspan x="90.5" dy="33">uid : entity_reference</tspan><tspan x="90.5" dy="33">filename : string</tspan><tspan x="90.5" dy="33">uri : file_uri</tspan><tspan x="90.5" dy="33">filemime : string</tspan><tspan x="90.5" dy="33">filesize : integer</tspan><tspan x="90.5" dy="33">status : boolean</tspan><tspan x="90.5" dy="33">created : created</tspan><tspan x="90.5" dy="33">changed : changed</tspan></text>
</g>

<g id="node-media-video"><rect class="tb" x="6306" y="3192" width="240" height="48"/><text class="t" x="6426" y="3223">entity_media__bundle_video</text></g>
<g id="node-media-image"><rect class="tb" x="6570" y="3192" width="243" height="48"/><text class="t" x="6691.5" y="3223">entity_media__bundle_image</text></g>

<g id="connectors">
<g stroke="#ee77aa" fill="#ee77aa"><path class="e" marker-end="url(#m-sent)" d="M3385,800 C2300,800 1109,1200 759,1480 C584,1620 190,2500 180,2868"/><text class="l le" stroke="none" x="3383" y="793">0..*</text><text class="l" stroke="none" x="662" y="1563">(field_sentiment)</text><text class="l le" stroke="none" x="177" y="2864">1..*</text></g>
<g stroke="#cc7799" fill="#cc7799"><path class="e" marker-end="url(#m-them)" d="M3385,808 C2500,808 1541,1200 1197,1480 C1025,1620 610,2500 604,2868"/><text class="l le" stroke="none" x="3383" y="806">0..*</text><text class="l" stroke="none" x="1100" y="1563">(field_themes)</text><text class="l le" stroke="none" x="601" y="2864">1..*</text></g>
<g stroke="#66ee11" fill="#66ee11"><path class="e" marker-end="url(#m-pub)" d="M3385,815 C2700,815 1908,1200 1630,1480 C1491,1620 1045,2500 1039,2868"/><text class="l le" stroke="none" x="3383" y="819">0..*</text><text class="l" stroke="none" x="1557" y="1563">(field_publication_type)</text><text class="l le" stroke="none" x="1036" y="2864">1..*</text></g>
<g stroke="#99aa22" fill="#99aa22"><path class="e" marker-end="url(#m-tu)" d="M3385,822 C2900,822 2380,1200 2126,1480 C1999,1620 1500,2450 1494,2852"/><text class="l le" stroke="none" x="3383" y="832">0..*</text><text class="l" stroke="none" x="2061" y="1563">(field_technologies_used)</text><text class="l le" stroke="none" x="1491" y="2848">1..*</text></g>
<g stroke="#99a090" fill="#99a090"><path class="e" marker-end="url(#m-rs1)" d="M3385,830 C3000,830 2497,1200 2321,1480 C2233,1620 2232,2200 2238,2700 C2242,2750 2270,2766 2330,2767 L2500,2767 C2560,2767 2600,2800 2603,2868"/><text class="l le" stroke="none" x="3383" y="845">0..*</text><text class="l" stroke="none" x="2275" y="1563">(field_record_status)</text><text class="l le" stroke="none" x="2600" y="2864">1..*</text></g>
<g stroke="#44cc44" fill="#44cc44"><path class="e" marker-end="url(#m-auth)" d="M3570,1445 C3568,1520 3563,1580 3561,1642"/><text class="l le" stroke="none" x="3567" y="1466">0..*</text><text class="l" stroke="none" x="3569" y="1517">(field_author_name)</text><text class="l le" stroke="none" x="3558" y="1636">1..*</text></g>
<g stroke="#5a7a10" fill="#5a7a10"><path class="e" marker-end="url(#m-act)" d="M3720,1648 C3640,1615 3500,1598 3380,1593 C3000,1580 2600,1600 2530,1700 C2505,1750 2480,1800 2472,1840"/><text class="l" stroke="none" x="3692" y="1645">0..*</text><text class="l" stroke="none" x="3577" y="1563">(field_actions)</text><text class="l le" stroke="none" x="2469" y="1833">1..*</text></g>
<g stroke="#40e0b0" fill="#40e0b0"><path class="e" marker-end="url(#m-chr)" d="M2809,1840 C2830,1760 2870,1640 2950,1610 C3100,1585 3600,1582 3900,1592 C4050,1600 4140,1640 4194,1686"/><text class="l le" stroke="none" x="2806" y="1833">1..*</text><text class="l" stroke="none" x="3747" y="1563">(field_character)</text><text class="l" stroke="none" x="4166" y="1682">1..*</text></g>
<g stroke="#8b3a4a" fill="#8b3a4a"><path class="e" marker-end="url(#m-mvs)" d="M3821,1425 C3845,1480 3880,1560 3887,1609"/><text class="l" stroke="none" x="3822" y="1411">0..*</text><text class="l" stroke="none" x="3869" y="1517">(field_machine_vision_situation)</text><text class="l" stroke="none" x="3858" y="1603">1..*</text></g>
<g stroke="#7a5c10" fill="#7a5c10"><path class="e" marker-end="url(#m-chs)" d="M3821,1445 C3850,1485 3880,1485 3914,1482 C3960,1478 3990,1462 4032,1466 C4085,1470 4180,1520 4204,1593"/><text class="l" stroke="none" x="3822" y="1433">0..*</text><text class="l" stroke="none" x="4145" y="1517">(field_characters)</text><text class="l" stroke="none" x="4179" y="1586">1..*</text></g>
<g stroke="#77dd44" fill="#77dd44"><path class="e" marker-end="url(#m-ma1)" d="M3821,1450 C3950,1480 4150,1490 4277,1498 C4420,1508 4520,1560 4620,1630 C5000,1900 6150,2520 6290,2720 C6370,2840 6415,3000 6426,3192"/><text class="l le" stroke="none" x="3819" y="1462">0..*</text><text class="l" stroke="none" x="4503" y="1563">(field_media_asset)</text><text class="l le" stroke="none" x="6422" y="3186">1..*</text></g>
<g stroke="#f4879a" fill="#f4879a"><path class="e" marker-end="url(#m-mi1)" d="M3821,1452 L4800,1535 C5600,1600 6250,1800 6400,2200 C6480,2450 6640,2950 6688,3192"/><text class="l" stroke="none" x="3822" y="1462">0..*</text><text class="l" stroke="none" x="5235" y="1563">(field_multi_image)</text><text class="l" stroke="none" x="6661" y="3209">1..*</text></g>
<g stroke="#a8b8a0" fill="#a8b8a0"><path class="e" marker-end="url(#m-hero)" d="M4544,790 C5600,1000 6600,1300 6740,1800 C6820,2100 6800,2700 6780,2850 C6760,3000 6710,3120 6701,3192"/><text class="l" stroke="none" x="4546" y="796">0..1</text><text class="l" stroke="none" x="6498" y="1563">(field_hero_image)</text><text class="l" stroke="none" x="6702" y="3186">1..*</text></g>
<g stroke="#2b1a9a" fill="#2b1a9a"><path class="e" marker-end="url(#m-tech)" d="M2264,2262 C2150,2340 1820,2580 1757,2700 C1730,2740 1640,2860 1596,2900"/><text class="l le" stroke="none" x="2262" y="2258">0..*</text><text class="l" stroke="none" x="1704" y="2759">(field_technology)</text><text class="l" stroke="none" x="1598" y="2900">1..*</text></g>
<g stroke="#ee88ee" fill="#ee88ee"><path class="e" marker-end="url(#m-vb1)" d="M2264,2322 C2170,2400 2020,2580 1998,2700 C1985,2770 1950,2830 1934,2869"/><text class="l le" stroke="none" x="2262" y="2322">0..*</text><text class="l" stroke="none" x="1981" y="2759">(field_verbs)</text><text class="l le" stroke="none" x="1930" y="2862">1..*</text></g>
<g stroke="#8b1a9a" fill="#8b1a9a"><path class="e" marker-end="url(#m-vb2)" d="M2748,2467 C2720,2560 2660,2640 2636,2700 C2620,2725 2600,2733 2500,2735 L2200,2739 C2150,2740 2120,2760 2100,2800 C2080,2840 2040,2850 2015,2880"/><text class="l" stroke="none" x="2721" y="2487">0..*</text><text class="l" stroke="none" x="2172" y="2759">(field_verbs)</text><text class="l" stroke="none" x="2023" y="2881">1..*</text></g>
<g stroke="#1a6a9a" fill="#1a6a9a"><path class="e" marker-end="url(#m-vb3)" d="M3101,2467 C3060,2580 3000,2660 2973,2700 C2955,2725 2940,2732 2880,2734 L2650,2740 C2500,2745 2420,2760 2330,2763 L2200,2765 C2120,2768 2030,2800 2006,2869"/><text class="l" stroke="none" x="3108" y="2487">0..*</text><text class="l" stroke="none" x="2442" y="2759">(field_verbs)</text><text class="l le" stroke="none" x="2004" y="2862">1..*</text></g>
<g stroke="#33bb77" fill="#33bb77"><path class="e" marker-end="url(#m-get)" d="M3092,2467 C3050,2580 2990,2660 2965,2700 C2948,2725 2930,2736 2870,2738 L2660,2742 C2600,2744 2560,2760 2530,2790 C2490,2830 2450,2850 2432,2869"/><text class="l" stroke="none" x="3076" y="2487">0..*</text><text class="l" stroke="none" x="2640" y="2759">(field_generic_entity_thing)</text><text class="l" stroke="none" x="2431" y="2863">1..*</text></g>
<g stroke="#c8c890" fill="#c8c890"><path class="e" marker-end="url(#m-rs2)" d="M3750,2698 C3740,2720 3720,2728 3650,2732 L3300,2741 C3200,2743 3120,2728 3059,2735 C2980,2745 2900,2790 2851,2869"/><text class="l" stroke="none" x="3742" y="2718">0..1</text><text class="l" stroke="none" x="3222" y="2759">(field_record_status)</text><text class="l le" stroke="none" x="2849" y="2863">1..*</text></g>
<g stroke="#a07888" fill="#a07888"><path class="e" marker-end="url(#m-col)" d="M3752,2698 C3740,2722 3700,2732 3600,2738 L3480,2742 C3420,2745 3380,2760 3340,2800 C3300,2840 3280,2850 3269,2869"/><text class="l" stroke="none" x="3712" y="2718">0..*</text><text class="l" stroke="none" x="3587" y="2759">(field_colours)</text><text class="l le" stroke="none" x="3266" y="2863">1..*</text></g>
<g stroke="#ccee44" fill="#ccee44"><path class="e" marker-end="url(#m-vis)" d="M3755,2698 C3730,2740 3680,2800 3662,2869"/><text class="l" stroke="none" x="3692" y="2695">0..*</text><text class="l" stroke="none" x="3703" y="2759">(field_visual_characteristics)</text><text class="l le" stroke="none" x="3659" y="2863">1..*</text></g>
<g stroke="#ccee00" fill="#ccee00"><path class="e" marker-end="url(#m-age)" d="M4369,2715 L4369,2869"/><text class="l le" stroke="none" x="4367" y="2733">0..*</text><text class="l" stroke="none" x="4371" y="2759">(field_age)</text><text class="l le" stroke="none" x="4367" y="2863">1..*</text></g>
<g stroke="#ee44ee" fill="#ee44ee"><path class="e" marker-end="url(#m-gen)" d="M4544,2578 C4570,2620 4585,2660 4592,2700 C4610,2770 4640,2830 4652,2869"/><text class="l" stroke="none" x="4546" y="2580">0..*</text><text class="l" stroke="none" x="4610" y="2759">(field_gender)</text><text class="l le" stroke="none" x="4650" y="2863">1..*</text></g>
<g stroke="#6b4820" fill="#6b4820"><path class="e" marker-end="url(#m-spc)" d="M4544,2280 C4750,2400 4930,2600 4981,2700 C5030,2790 5080,2840 5090,2869"/><text class="l" stroke="none" x="4546" y="2274">1..*</text><text class="l" stroke="none" x="5024" y="2759">(field_species)</text><text class="l le" stroke="none" x="5087" y="2863">1..*</text></g>
<g stroke="#22cc88" fill="#22cc88"><path class="e" marker-end="url(#m-race)" d="M4544,2302 C4800,2420 5070,2600 5154,2700 C5200,2750 5250,2764 5320,2765 L5430,2767 C5480,2768 5520,2800 5537,2869"/><text class="l" stroke="none" x="4546" y="2301">0..*</text><text class="l" stroke="none" x="5311" y="2759">(field_race_ethnicity)</text><text class="l le" stroke="none" x="5534" y="2863">1..*</text></g>
<g stroke="#b06050" fill="#b06050"><path class="e" marker-end="url(#m-ma2)" d="M4118,2698 C4140,2725 4180,2730 4300,2733 L5450,2742 C5490,2743 5500,2766 5540,2767 L6230,2770 C6280,2771 6300,2790 6320,2850 C6380,3000 6418,3100 6428,3192"/><text class="l" stroke="none" x="4127" y="2677">0..*</text><text class="l" stroke="none" x="5520" y="2759">(field_media_asset)</text><text class="l" stroke="none" x="6430" y="3186">1..*</text></g>
<g stroke="#ee1155" fill="#ee1155"><path class="e" marker-end="url(#m-sex)" d="M4544,2236 C5000,2400 5450,2600 5560,2700 C5640,2750 5700,2762 5760,2763 L5840,2765 C5900,2767 5940,2800 5956,2869"/><text class="l" stroke="none" x="4546" y="2233">1..*</text><text class="l" stroke="none" x="5731" y="2759">(field_sexuality)</text><text class="l le" stroke="none" x="5953" y="2863">1..*</text></g>
<g stroke="#22cc99" fill="#22cc99"><path class="e" marker-end="url(#m-med)" d="M4544,2206 C5100,2380 5650,2580 5780,2710 C5830,2755 5860,2764 5920,2766 L6230,2771 C6280,2772 6300,2790 6320,2850 C6378,3000 6416,3100 6426,3192"/><text class="l" stroke="none" x="4546" y="2205">0..*</text><text class="l" stroke="none" x="5891" y="2759">(field_media)</text></g>
<g stroke="#006400" fill="#006400"><path class="e" marker-end="url(#m-mi2)" d="M4121,2698 C4145,2722 4185,2727 4300,2730 L5980,2740 C6030,2741 6060,2763 6110,2764 L6500,2770 C6560,2771 6600,2800 6630,2860 C6670,2960 6685,3100 6692,3192"/><text class="l" stroke="none" x="4127" y="2697">0..*</text><text class="l" stroke="none" x="6121" y="2759">(field_multi_image)</text><text class="l" stroke="none" x="6692" y="3186">1..*</text></g>
<g stroke="#00d4b4" fill="#00d4b4"><path class="e" marker-end="url(#m-img)" d="M4544,2212 C5200,2380 5900,2600 6100,2700 C6250,2760 6350,2766 6500,2770 C6560,2771 6600,2800 6628,2860 C6668,2960 6683,3100 6691,3192"/><text class="l" stroke="none" x="4546" y="2214">0..*</text><text class="l" stroke="none" x="6389" y="2759">(field_image)</text><text class="l le" stroke="none" x="6690" y="3186">1..*</text></g>
<g stroke="#d4b050" fill="#d4b050"><path class="e" marker-end="url(#m-pic)" d="M1438,3578 L1438,3717"/><text class="l le" stroke="none" x="1436" y="3597">0..1</text><text class="l" stroke="none" x="1441" y="3622">(field_pictograms)</text><text class="l le" stroke="none" x="1436" y="3711">1..*</text></g>

<g stroke="#5a2ee8" fill="#5a2ee8"><path class="e" marker-end="url(#p0)" d="M339,3150 C369,3175 371,3252 342,3279"/><text class="l" stroke="none" x="340" y="3147">0..*</text><text class="l" stroke="none" x="363" y="3222">(parent)</text><text class="l" stroke="none" x="340" y="3268">1..*</text></g>
<g stroke="#cc33cc" fill="#cc33cc"><path class="e" marker-end="url(#p1)" d="M758,3150 C788,3175 790,3252 761,3279"/><text class="l" stroke="none" x="759" y="3147">0..*</text><text class="l" stroke="none" x="782" y="3222">(parent)</text><text class="l" stroke="none" x="759" y="3268">1..*</text></g>
<g stroke="#3a4a1a" fill="#3a4a1a"><path class="e" marker-end="url(#p2)" d="M1176,3150 C1206,3175 1208,3252 1179,3279"/><text class="l" stroke="none" x="1177" y="3147">0..*</text><text class="l" stroke="none" x="1200" y="3222">(parent)</text><text class="l" stroke="none" x="1177" y="3268">1..*</text></g>
<g stroke="#2a5040" fill="#2a5040"><path class="e" marker-end="url(#p3)" d="M1595,3150 C1625,3175 1627,3252 1598,3279"/><text class="l" stroke="none" x="1596" y="3147">0..*</text><text class="l" stroke="none" x="1619" y="3222">(parent)</text><text class="l" stroke="none" x="1596" y="3268">1..*</text></g>
<g stroke="#1a1a70" fill="#1a1a70"><path class="e" marker-end="url(#p4)" d="M2013,3150 C2043,3175 2045,3252 2016,3279"/><text class="l" stroke="none" x="2014" y="3147">0..*</text><text class="l" stroke="none" x="2037" y="3222">(parent)</text><text class="l" stroke="none" x="2014" y="3268">1..*</text></g>
<g stroke="#dd1a50" fill="#dd1a50"><path class="e" marker-end="url(#p5)" d="M2432,3150 C2462,3175 2464,3252 2435,3279"/><text class="l" stroke="none" x="2433" y="3147">0..*</text><text class="l" stroke="none" x="2456" y="3222">(parent)</text><text class="l" stroke="none" x="2433" y="3268">1..*</text></g>
<g stroke="#66aa22" fill="#66aa22"><path class="e" marker-end="url(#p6)" d="M2851,3150 C2881,3175 2883,3252 2854,3279"/><text class="l" stroke="none" x="2852" y="3147">0..*</text><text class="l" stroke="none" x="2875" y="3222">(parent)</text><text class="l" stroke="none" x="2852" y="3268">1..*</text></g>
<g stroke="#1a3a70" fill="#1a3a70"><path class="e" marker-end="url(#p7)" d="M3269,3150 C3299,3175 3301,3252 3272,3279"/><text class="l" stroke="none" x="3270" y="3147">0..*</text><text class="l" stroke="none" x="3293" y="3222">(parent)</text><text class="l" stroke="none" x="3270" y="3268">1..*</text></g>
<g stroke="#33bb33" fill="#33bb33"><path class="e" marker-end="url(#p8)" d="M3688,3150 C3718,3175 3720,3252 3691,3279"/><text class="l" stroke="none" x="3689" y="3147">0..*</text><text class="l" stroke="none" x="3712" y="3222">(parent)</text><text class="l" stroke="none" x="3689" y="3268">1..*</text></g>
<g stroke="#ee8866" fill="#ee8866"><path class="e" marker-end="url(#p9)" d="M4106,3150 C4136,3175 4138,3252 4109,3279"/><text class="l" stroke="none" x="4107" y="3147">0..*</text><text class="l" stroke="none" x="4130" y="3222">(parent)</text><text class="l" stroke="none" x="4107" y="3268">1..*</text></g>
<g stroke="#44cc55" fill="#44cc55"><path class="e" marker-end="url(#p10)" d="M4525,3150 C4555,3175 4557,3252 4528,3279"/><text class="l" stroke="none" x="4526" y="3147">0..*</text><text class="l" stroke="none" x="4549" y="3222">(parent)</text><text class="l" stroke="none" x="4526" y="3268">1..*</text></g>
<g stroke="#117799" fill="#117799"><path class="e" marker-end="url(#p11)" d="M4944,3150 C4974,3175 4976,3252 4947,3279"/><text class="l" stroke="none" x="4945" y="3147">0..*</text><text class="l" stroke="none" x="4968" y="3222">(parent)</text><text class="l" stroke="none" x="4945" y="3268">1..*</text></g>
<g stroke="#99dddd" fill="#99dddd"><path class="e" marker-end="url(#p12)" d="M5362,3150 C5392,3175 5394,3252 5365,3279"/><text class="l" stroke="none" x="5363" y="3147">0..*</text><text class="l" stroke="none" x="5386" y="3222">(parent)</text><text class="l" stroke="none" x="5363" y="3268">1..*</text></g>
<g stroke="#889933" fill="#889933"><path class="e" marker-end="url(#p13)" d="M5781,3150 C5811,3175 5813,3252 5784,3279"/><text class="l" stroke="none" x="5782" y="3147">0..*</text><text class="l" stroke="none" x="5805" y="3222">(parent)</text><text class="l" stroke="none" x="5782" y="3268">1..*</text></g>
<g stroke="#ee5533" fill="#ee5533"><path class="e" marker-end="url(#p14)" d="M6199,3150 C6229,3175 6231,3252 6202,3279"/><text class="l" stroke="none" x="6200" y="3147">0..*</text><text class="l" stroke="none" x="6223" y="3222">(parent)</text><text class="l" stroke="none" x="6200" y="3268">1..*</text></g>
</g>
</g>
</svg>
